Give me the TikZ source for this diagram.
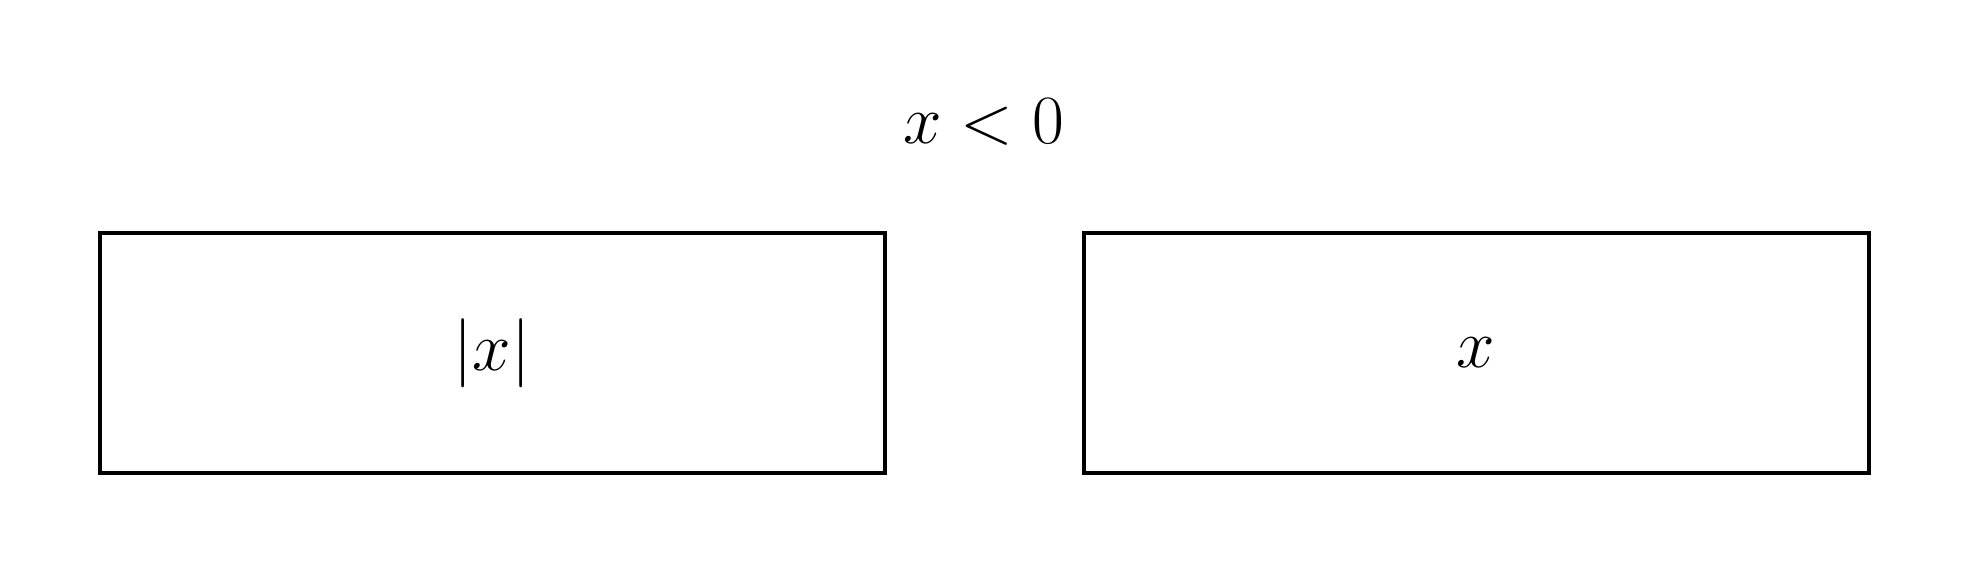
\documentclass[tikz,border=0pt]{standalone}
\begin{document}
\begin{tikzpicture}[x=0.25pt,y=-0.25pt,
  box/.style={draw=black,line width=1pt,inner sep=0pt,minimum width=196.25pt,minimum height=60.1pt,font=\fontsize{17.8}{20}\selectfont},
  title/.style={inner sep=0pt,anchor=base,font=\fontsize{17.8}{20}\selectfont}]
\useasboundingbox (0,0) rectangle (1969,574);
\node[title] (t) at (984,143.5) {$x<0$};
\node[box] (l) at (492,352.75) {$|x|$};
\node[box] (r) at (1476,352.75) {$x$};
\end{tikzpicture}
\end{document}
